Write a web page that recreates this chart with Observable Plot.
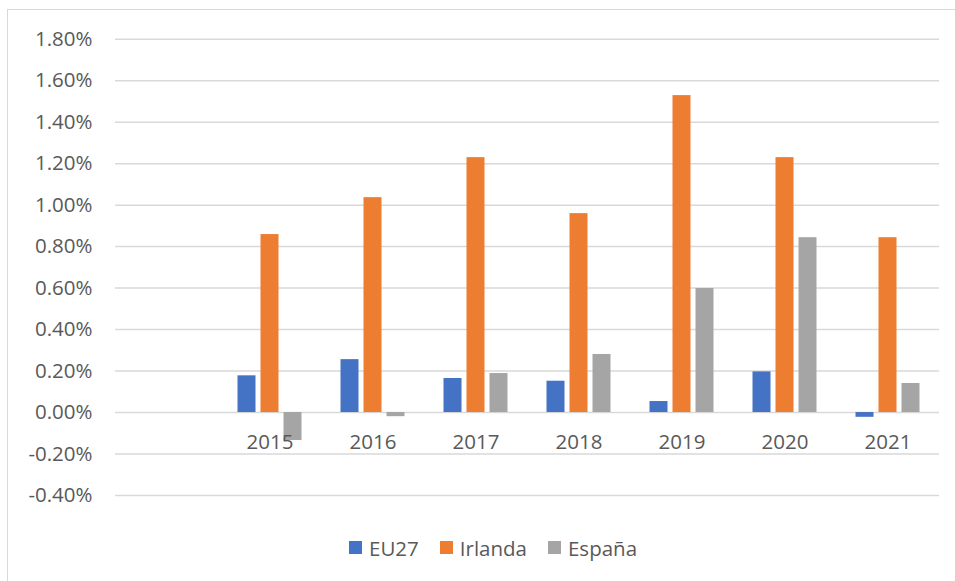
<!DOCTYPE html>
<html>
<head>
<meta charset="utf-8">
<script src="https://cdn.jsdelivr.net/npm/d3@7"></script>
<script src="https://cdn.jsdelivr.net/npm/@observablehq/plot@0.6"></script>
<style>
  html, body { margin: 0; padding: 0; background: #fff; }
  body { font-family: "Open Sans", sans-serif; }
  #wrap { position: relative; width: 955px; height: 581px; overflow: hidden; }
  #border { position: absolute; left: 7px; top: 9px; width: 1000px; height: 700px; border: 1.5px solid #d9d9d9; }
  #chart { position: absolute; left: 0; top: 0; }
  #legend { position: absolute; left: 349px; top: 534px; height: 27px; display: flex; align-items: center;
            font-family: "Open Sans", sans-serif; font-size: 20.5px; color: #595959; }
  .item { display: flex; align-items: center; margin-right: 21px; }
  .sw { width: 13px; height: 13px; margin-right: 7px; }
</style>
</head>
<body>
<div id="wrap">
  <div id="border"></div>
  <div id="chart"></div>
  <div id="legend"></div>
</div>
<script>
const categories = ["", "2015", "2016", "2017", "2018", "2019", "2020", "2021"];
const years = ["2015", "2016", "2017", "2018", "2019", "2020", "2021"];
const seriesNames = ["EU27", "Irlanda", "España"];
const colors = ["#4472C4", "#ED7D31", "#A5A5A5"];
const eu27 = [0.177, 0.255, 0.164, 0.151, 0.053, 0.196, -0.023];
const irlanda = [0.858, 1.036, 1.229, 0.959, 1.528, 1.229, 0.843];
const espana = [-0.135, -0.020, 0.188, 0.280, 0.598, 0.843, 0.140];
const yTicks = [-0.4, -0.2, 0, 0.2, 0.4, 0.6, 0.8, 1.0, 1.2, 1.4, 1.6, 1.8];

const seriesValues = [eu27, irlanda, espana];
const offsets = [-23, 0, 23];

const barMarks = seriesValues.map((vals, s) =>
  Plot.barY(years.map((y, i) => ({year: y, value: vals[i]})), {
    x: "year", y1: 0, y2: "value", fill: colors[s],
    dx: offsets[s], insetLeft: 42.5, insetRight: 42.5
  })
);

const chart = Plot.plot({
  width: 955,
  height: 520,
  marginLeft: 115,
  marginRight: 16,
  marginTop: 38.7,
  marginBottom: 25,
  style: {fontFamily: "Open Sans", fontSize: "20.5px", background: "transparent"},
  x: {domain: categories, padding: 0, axis: null},
  y: {domain: [-0.4, 1.8], axis: null},
  marks: [
    Plot.ruleY(yTicks, {y: d => d, stroke: "#d9d9d9", strokeWidth: 1.5}),
    Plot.text(yTicks, {y: d => d, frameAnchor: "left", dx: -23, textAnchor: "end",
      text: d => d.toFixed(2) + "%", fill: "#595959", fontSize: 20.5}),
    ...barMarks,
    Plot.text(years, {x: d => d, y: 0, dy: 30, text: d => d, fill: "#595959", fontSize: 20.5})
  ]
});
document.getElementById("chart").appendChild(chart);

const legend = document.getElementById("legend");
seriesNames.forEach((name, i) => {
  const item = document.createElement("div");
  item.className = "item";
  const sw = document.createElement("div");
  sw.className = "sw";
  sw.style.background = colors[i];
  const label = document.createElement("span");
  label.textContent = name;
  item.appendChild(sw);
  item.appendChild(label);
  legend.appendChild(item);
});
</script>
</body>
</html>
